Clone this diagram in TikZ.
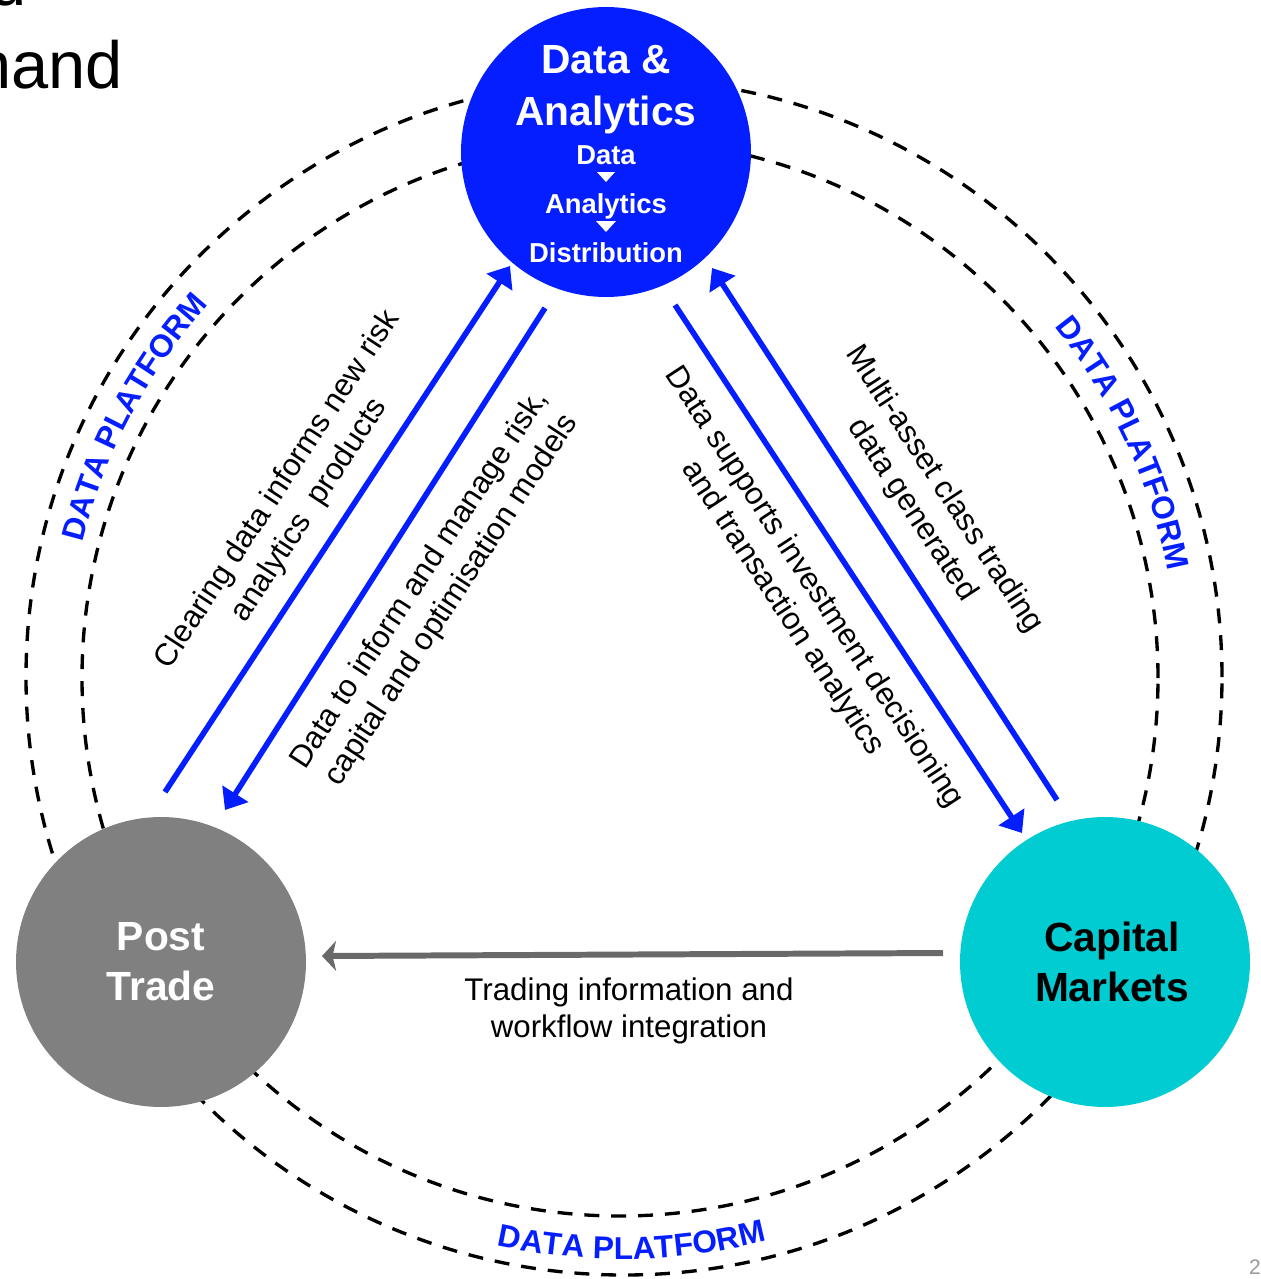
\documentclass[tikz,border=0pt]{standalone}
\usepackage{fontspec}
\setmainfont{Liberation Sans}
\usetikzlibrary{arrows.meta,decorations.text}

\definecolor{dablue}{RGB}{5,30,255}
\definecolor{cmteal}{RGB}{0,204,210}
\definecolor{ptgray}{RGB}{128,128,128}
\definecolor{flowgray}{RGB}{105,105,105}

\tikzset{
  hub/.style={circle, minimum size=5.8cm, inner sep=0pt, align=center,
    font=\fontsize{23.2}{28.3}\selectfont\bfseries},
  hubtitle/.style={anchor=base, inner sep=0pt, text=white,
    font=\fontsize{23.2}{28}\selectfont\bfseries},
  hubstep/.style={anchor=base, inner sep=0pt, text=white,
    font=\fontsize{15.6}{18}\selectfont\bfseries},
  ring/.style={dash pattern=on 8.5pt off 6.8pt, line width=1.9pt},
  bluearrow/.style={dablue, line width=3.2pt, -{Triangle[length=11pt,width=17pt]}},
  grayarrow/.style={flowgray, line width=3.4pt, -{Stealth[length=8pt,width=17pt,inset=2pt]}},
  flowlabel/.style={align=center, font=\fontsize{17.8}{21.5}\selectfont},
  dplabel/.style={decorate, decoration={text along path, text align=center,
    text={|\fontsize{18}{21}\selectfont\bfseries\color{dablue}|DATA PLATFORM}}}
}

\begin{document}
\begin{tikzpicture}[x=0.02cm, y=0.02cm]
\useasboundingbox (0,0) rectangle (1261,-1279);
\clip (0,0) rectangle (1261,-1279);

% title, cut off by the page edge
\node[anchor=base east, inner sep=0pt, font=\fontsize{38}{46}\selectfont] (titlea) at (27,-5) {d};
\node[anchor=base east, inner sep=0pt, font=\fontsize{38}{46}\selectfont] (titleb) at (123,-88) {hand};

% platform rings
\draw[ring] (624,-677) circle[radius=598];
\draw[ring] (620,-678) circle[radius=538];

\path[dplabel] (622,-677) ++(172:556) arc[start angle=172, end angle=132, radius=556];
\path[dplabel] (622,-677) ++(45:556) arc[start angle=45, end angle=5, radius=556];
\path[dplabel] (622,-677) ++(-109:582) arc[start angle=-109, end angle=-69, radius=582];

% hubs
\node[hub, fill=dablue] (da) at (606,-152) {};
\node[hub, fill=ptgray, text=white] (pt) at (161,-962) {Post\\Trade};
\node[hub, fill=cmteal] (cm) at (1105,-962) {\hspace*{8pt}Capital\\\hspace*{8pt}Markets};

\node[hubtitle] (datitlea) at (606,-73) {Data \&};
\node[hubtitle] (datitleb) at (606,-125) {Analytics};
\node[hubstep] (dastepa) at (606,-164) {Data};
\node[hubstep] (dastepb) at (606,-213) {Analytics};
\node[hubstep] (dastepc) at (606,-262) {Distribution};
\fill[white] (597,-172) -- (615,-172) -- (606,-182) -- cycle;
\fill[white] (596,-221) -- (616,-221) -- (606,-232) -- cycle;

% flows
\coordinate (clrS) at (165,-792);
\coordinate (clrE) at (510,-266);
\coordinate (riskS) at (545,-308);
\coordinate (riskE) at (225,-810);
\coordinate (invS) at (675,-305);
\coordinate (invE) at (1022,-833);
\coordinate (trdS) at (1057,-800);
\coordinate (trdE) at (712,-268);
\coordinate (wfS) at (943,-953);
\coordinate (wfE) at (322,-956);

\draw[bluearrow] (clrS) -- (clrE);
\draw[bluearrow] (riskS) -- (riskE);
\draw[bluearrow] (invS) -- (invE);
\draw[bluearrow] (trdS) -- (trdE);
\draw[grayarrow] (wfS) -- (wfE);

\node[flowlabel, rotate=56.8] (clrlbl) at (294,-500) {Clearing data informs new risk\\analytics\ \ products};
\node[flowlabel, rotate=56.8] (risklbl) at (436,-590) {Data to inform and manage risk,\\capital and optimisation models};
\node[flowlabel, rotate=-56.8] (invlbl) at (798,-598) {Data supports investment decisioning\\and transaction analytics};
\node[flowlabel, rotate=-56.8] (trdlbl) at (928,-500) {Multi-asset class trading\\data generated};
\node[flowlabel] (wflbl) at (629,-1011) {Trading information and\\workflow integration};

\node[text=gray!80, font=\fontsize{12}{14}\selectfont] (pgno) at (1255,-1267) {2};

\end{tikzpicture}
\end{document}
